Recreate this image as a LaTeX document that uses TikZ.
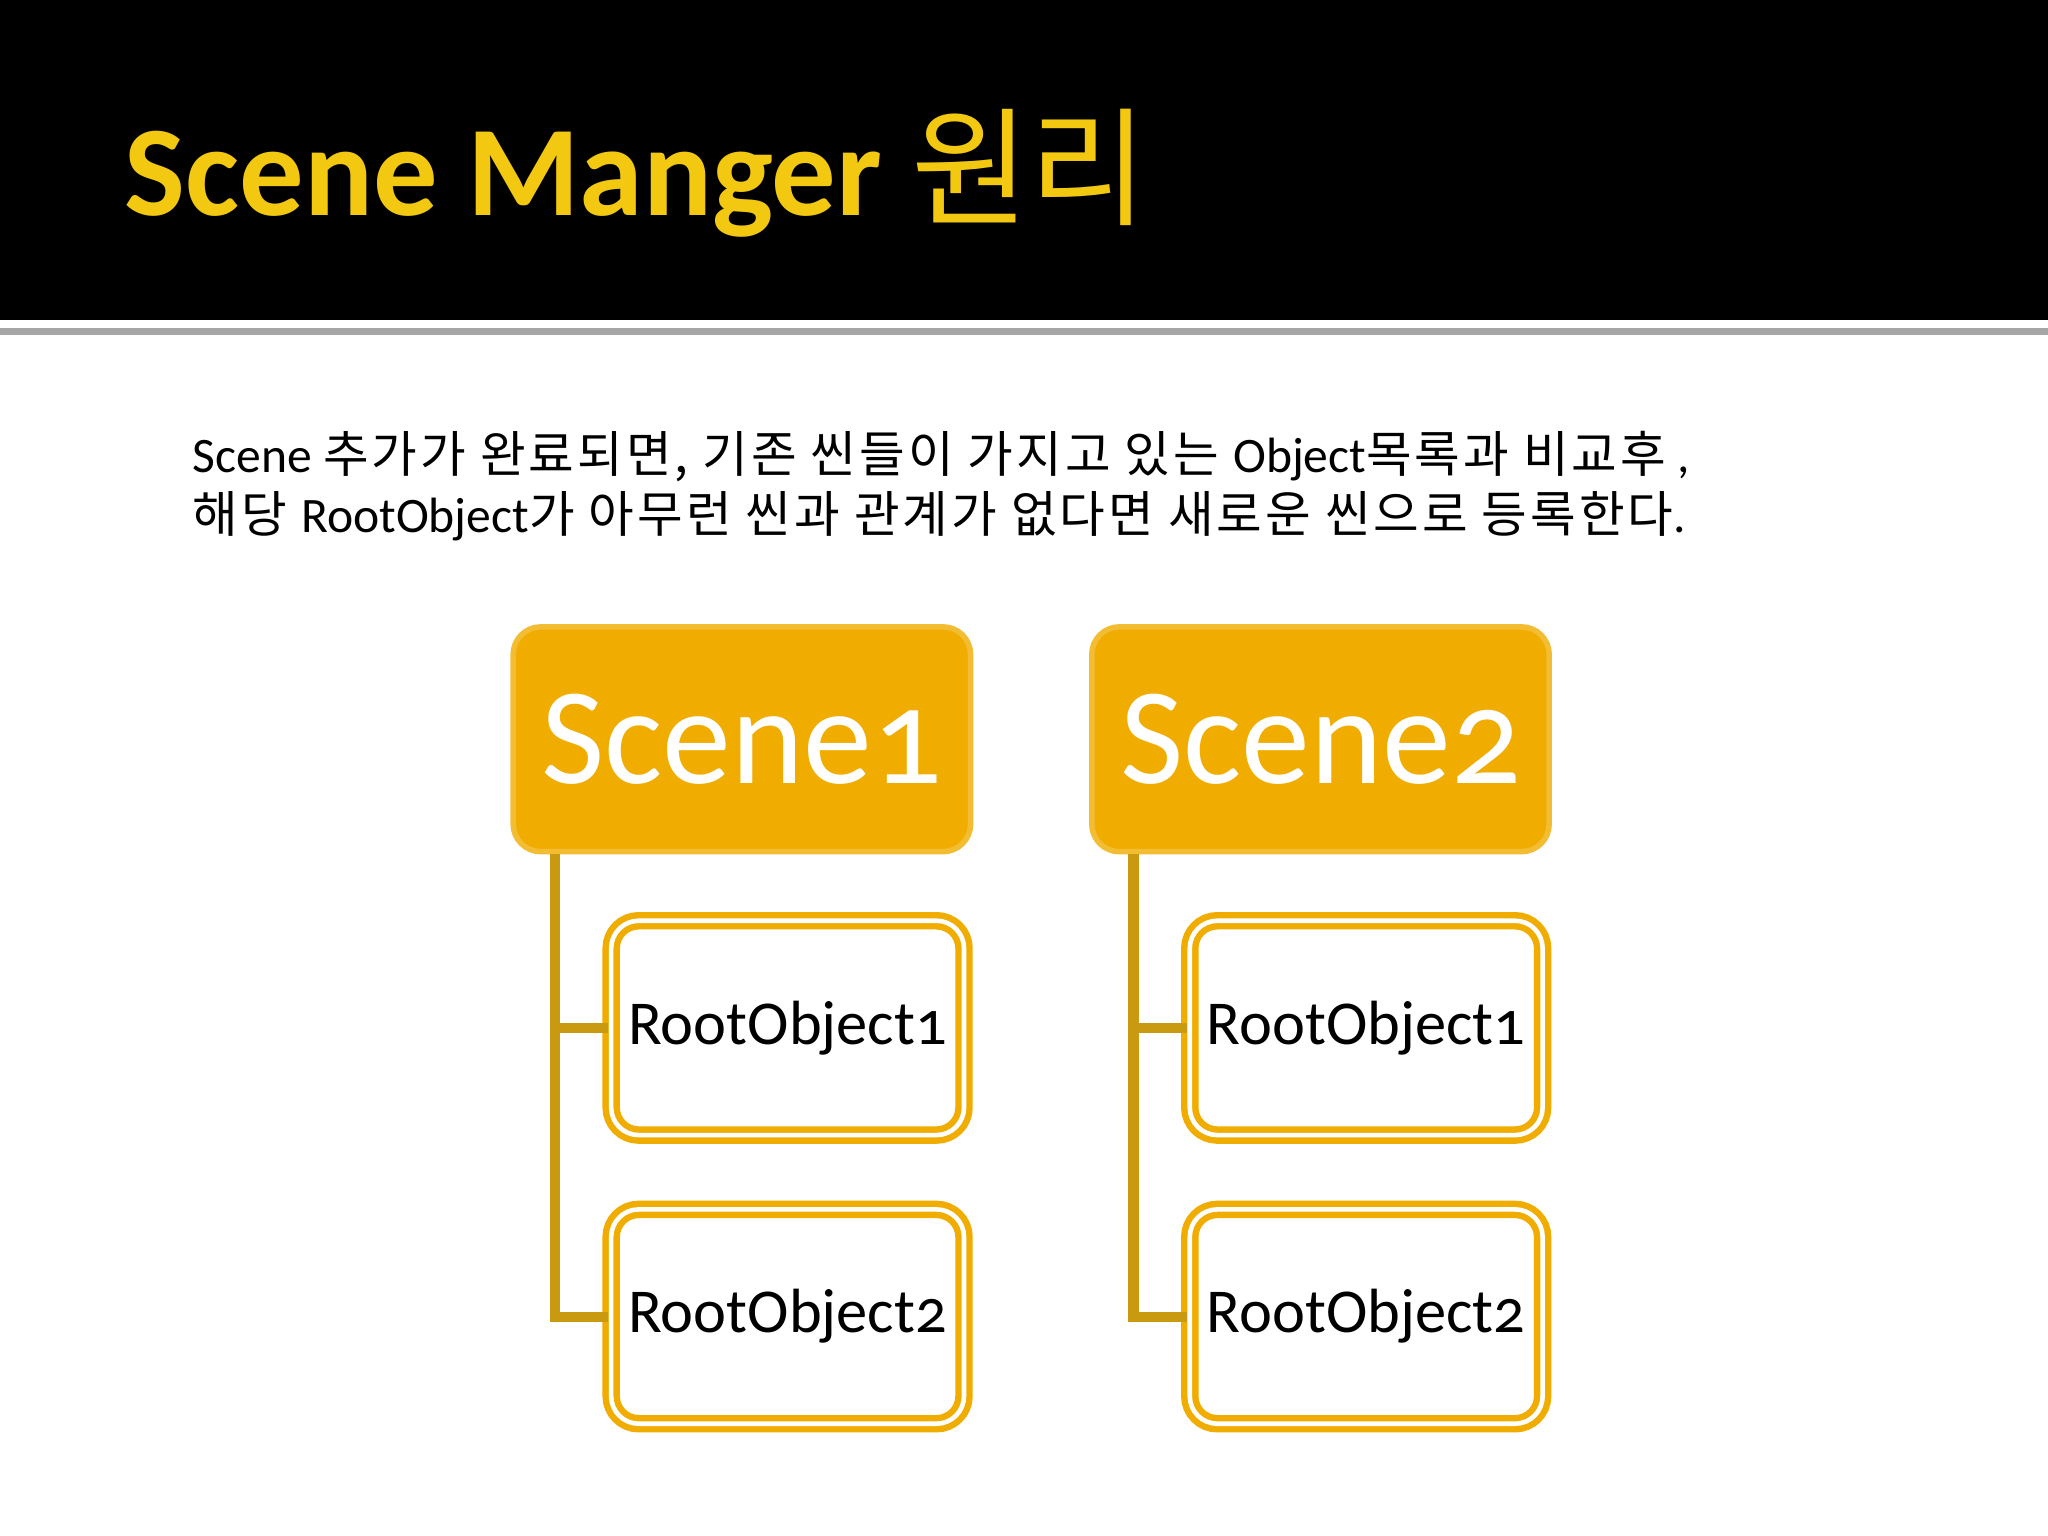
\documentclass[tikz,border=0pt]{standalone}
\usepackage{fontspec}
\setmainfont{Carlito}
\newfontfamily\kr{Noto Sans CJK KR}
\newfontfamily\krw[LetterSpace=6]{Noto Sans CJK KR}
\newfontfamily\onum[Numbers=OldStyle]{Carlito}
\definecolor{gold}{HTML}{F0AD00}
\definecolor{titley}{HTML}{F2C811}
\definecolor{linec}{HTML}{C99A10}
\tikzset{
 scenebox/.style={draw=gold!80!white,line width=1.2pt,fill=gold,rounded corners=6pt,minimum width=3.5cm,minimum height=1.72cm,font=\onum\fontsize{30}{30}\selectfont,text=white},
 rootbox/.style={draw=gold,double=white,double distance=1pt,line width=1.4pt,fill=white,rounded corners=6pt,minimum width=2.7cm,minimum height=1.64cm,inner sep=0pt,font=\onum\fontsize{13.6}{13.6}\selectfont},
 conn/.style={draw=linec,line width=2.2pt}
}
\begin{document}
\begin{tikzpicture}[x=0.01cm,y=-0.01cm]
\useasboundingbox (0,0) rectangle (1568,1176);
\fill[white] (0,0) rectangle (1568,1176);
\fill[black] (0,0) rectangle (1568,245);
\draw[gray!70,line width=1.5pt] (0,254) -- (1568,254);
\node[anchor=base west,text=titley,inner sep=0] (title) at (95,165) {\fontsize{28}{28}\selectfont\bfseries Scene Manger {\kr\mdseries 원리}};
\node[anchor=base west,inner sep=0] (l1) at (147,362) {\fontsize{10.8}{12}\selectfont Scene {\krw 추가가 완료되면, 기존 씬들이 가지고 있는 }Object{\krw 목록과 비교후} ,};
\node[anchor=base west,inner sep=0] (l2) at (147,408) {\fontsize{10.8}{12}\selectfont{\krw 해당 }RootObject{\krw 가 아무런 씬과 관계가 없다면 새로운 씬으로 등록한다}.};
\foreach \n/\x in {1/568,2/1011}{
 \node[scenebox] (s\n) at (\x,566) {Scene\n};
 \node[rootbox] (r\n a) at (\x+35,787) {RootObject1};
 \node[rootbox] (r\n b) at (\x+35,1008) {RootObject2};
 \coordinate (top\n) at ([xshift=0.34cm]s\n.south west);
 \draw[conn] (top\n) |- (r\n a.west);
 \draw[conn] (top\n) |- (r\n b.west);
}
\end{tikzpicture}
\end{document}
